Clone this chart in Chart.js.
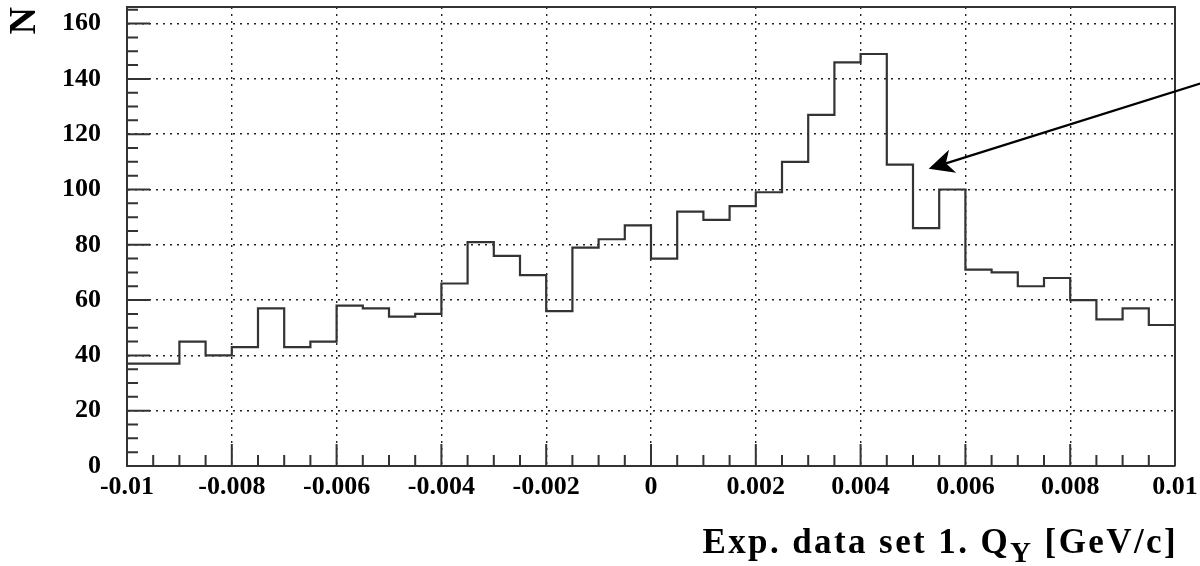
<!DOCTYPE html>
<html>
<head>
<meta charset="utf-8">
<script src="https://cdn.jsdelivr.net/npm/chart.js@4.4.1/dist/chart.umd.min.js"></script>
<style>
  html, body { margin: 0; padding: 0; background: #fff; }
  #wrap { width: 1200px; height: 566px; }
</style>
</head>
<body>
<div id="wrap"><canvas id="hist"></canvas></div>
<script>
// histogram: 40 bins of width 0.0005 between -0.01 and 0.01
const xMin = -0.01;
const xMax = 0.01;
const binWidth = 0.0005;
const counts = [37, 37, 45, 40, 43, 57, 43, 45, 58, 57,
                54, 55, 66, 81, 76, 69, 56, 79, 82, 87,
                75, 92, 89, 94, 99, 110, 127, 146, 149, 109,
                86, 100, 71, 70, 65, 68, 60, 53, 57, 51];

const xTickValues = [-0.01, -0.008, -0.006, -0.004, -0.002, 0, 0.002, 0.004, 0.006, 0.008, 0.01];
const xTickLabels = ["-0.01", "-0.008", "-0.006", "-0.004", "-0.002", "0", "0.002", "0.004", "0.006", "0.008", "0.01"];
const yTickValues = [0, 20, 40, 60, 80, 100, 120, 140, 160];
const yTickLabels = ["0", "20", "40", "60", "80", "100", "120", "140", "160"];
const yMax = 166;

const yTitle = "N";
const xTitleMain = "Exp. data set 1. Q";
const xTitleSub = "Y";
const xTitleUnit = " [GeV/c]";

// arrow pointing at the dip, in data units
const arrowTip = { x: 0.0053, y: 107.5 };
const arrowTail = { x: 0.01048, y: 138.3 };

// points at the left edge of each bin, plus the right edge of the last one
const points = counts.map((c, i) => ({ x: xMin + i * binWidth, y: c }));
points.push({ x: xMax, y: counts[counts.length - 1] });

const serif = '"Liberation Serif", "Times New Roman", serif';

// frame (top + right), inward tick marks and the arrow
const frameTicks = {
  id: 'frameTicks',
  afterDraw(chart) {
    const { ctx, chartArea: a, scales: { x, y } } = chart;
    ctx.save();
    ctx.strokeStyle = '#333';
    ctx.lineWidth = 2;
    ctx.beginPath();
    ctx.moveTo(a.left, a.top);
    ctx.lineTo(a.right, a.top);
    ctx.lineTo(a.right, a.bottom);
    const nx = Math.round((xMax - xMin) / binWidth);
    for (let i = 1; i < nx; i++) {
      const px = x.getPixelForValue(xMin + i * binWidth);
      const len = i % 4 === 0 ? 22 : 11;
      ctx.moveTo(px, a.bottom);
      ctx.lineTo(px, a.bottom - len);
    }
    for (let v = 5; v < yMax; v += 5) {
      const py = y.getPixelForValue(v);
      const len = v % 20 === 0 ? 23 : 11;
      ctx.moveTo(a.left, py);
      ctx.lineTo(a.left + len, py);
    }
    ctx.stroke();

    // arrow
    const tx = x.getPixelForValue(arrowTip.x), ty = y.getPixelForValue(arrowTip.y);
    const sx = x.getPixelForValue(arrowTail.x), sy = y.getPixelForValue(arrowTail.y);
    const d = Math.hypot(sx - tx, sy - ty);
    const ux = (sx - tx) / d, uy = (sy - ty) / d;
    const nxv = -uy, nyv = ux;
    ctx.strokeStyle = '#000';
    ctx.fillStyle = '#000';
    ctx.lineWidth = 2.2;
    ctx.beginPath();
    ctx.moveTo(sx, sy);
    ctx.lineTo(tx + ux * 18, ty + uy * 18);
    ctx.stroke();
    ctx.beginPath();
    ctx.moveTo(tx, ty);
    ctx.lineTo(tx + ux * 25 + nxv * 12, ty + uy * 25 + nyv * 12);
    ctx.lineTo(tx + ux * 18, ty + uy * 18);
    ctx.lineTo(tx + ux * 25 - nxv * 12, ty + uy * 25 - nyv * 12);
    ctx.closePath();
    ctx.fill();
    ctx.restore();
  }
};

// x axis title with a subscript
const xTitle = {
  id: 'xTitle',
  afterDraw(chart) {
    const { ctx, chartArea: a } = chart;
    const mainFont = 'bold 35px ' + serif;
    const subFont = 'bold 29px ' + serif;
    ctx.save();
    ctx.fillStyle = '#000';
    ctx.textBaseline = 'alphabetic';
    ctx.textAlign = 'left';
    ctx.letterSpacing = '2.4px';
    const parts = [[xTitleMain, mainFont, 0], [xTitleSub, subFont, 9], [xTitleUnit, mainFont, 0]];
    const widths = parts.map(p => { ctx.font = p[1]; return ctx.measureText(p[0]).width; });
    let px = a.right + 3 - widths.reduce((s, w) => s + w, 0);
    const base = a.bottom + 87;
    parts.forEach((p, i) => {
      ctx.font = p[1];
      ctx.fillText(p[0], px, base + p[2]);
      px += widths[i];
    });
    ctx.restore();
  }
};

new Chart(document.getElementById('hist'), {
  type: 'line',
  plugins: [frameTicks, xTitle],
  data: {
    datasets: [{
      data: points,
      stepped: 'before',
      borderColor: '#333',
      borderWidth: 2.2,
      pointRadius: 0,
      fill: false,
    }],
  },
  options: {
    responsive: true,
    maintainAspectRatio: false,
    animation: false,
    layout: { padding: { top: 7, right: 25, left: 0, bottom: 0 } },
    plugins: {
      legend: { display: false },
      tooltip: { enabled: false },
    },
    scales: {
      x: {
        type: 'linear',
        min: xMin,
        max: xMax,
        afterBuildTicks: (s) => { s.ticks = xTickValues.map(v => ({ value: v })); },
        afterFit: (s) => { s.height = 100; s.paddingLeft = 0; s.paddingRight = 0; },
        grid: {
          drawTicks: false,
          lineWidth: 1.4,
          color: (c) => (c.tick && (c.tick.value === xMin || c.tick.value === xMax)) ? 'rgba(0,0,0,0)' : '#222',
        },
        border: { color: '#333', width: 2, dash: [2, 5] },
        ticks: {
          autoSkip: false,
          maxRotation: 0,
          padding: 6,
          color: '#000',
          font: { family: serif, weight: 'bold', size: 26 },
          callback: (v, i) => xTickLabels[i],
        },
      },
      y: {
        min: 0,
        max: yMax,
        afterBuildTicks: (s) => { s.ticks = yTickValues.map(v => ({ value: v })); },
        afterFit: (s) => { s.width = 127; s.paddingTop = 0; s.paddingBottom = 0; },
        grid: {
          drawTicks: false,
          lineWidth: 1.4,
          color: (c) => (c.tick && c.tick.value === 0) ? 'rgba(0,0,0,0)' : '#222',
        },
        border: { color: '#333', width: 2, dash: [2, 5] },
        ticks: {
          padding: 26,
          color: '#000',
          font: { family: serif, weight: 'bold', size: 26 },
          callback: (v, i) => yTickLabels[i],
        },
        title: {
          display: true,
          text: yTitle,
          align: 'end',
          color: '#000',
          padding: { top: 2, bottom: 0 },
          font: { family: serif, weight: 'bold', size: 38 },
        },
      },
    },
  },
});
</script>
</body>
</html>
